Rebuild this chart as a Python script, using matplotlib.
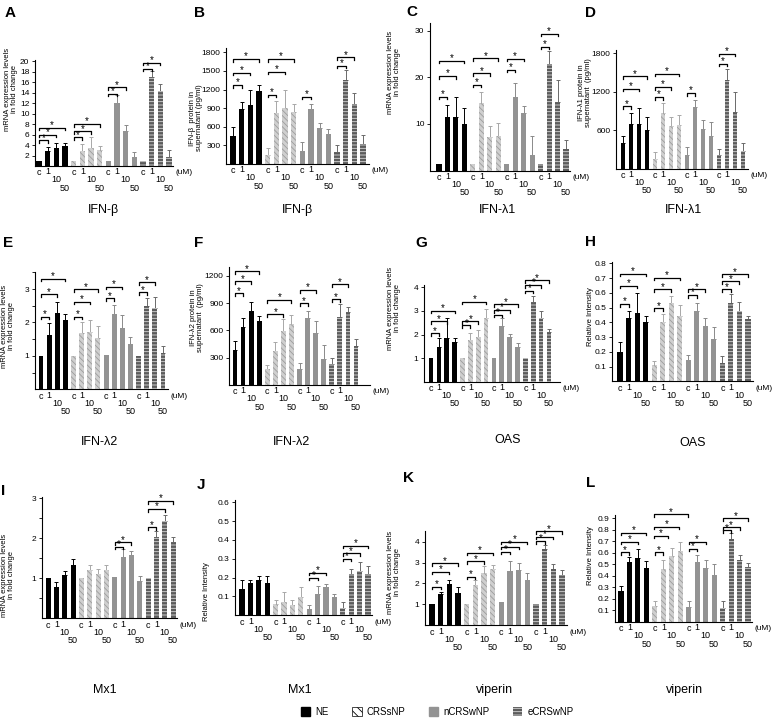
import numpy as np
import matplotlib
matplotlib.use('Agg')
import matplotlib.pyplot as plt
from matplotlib.patches import Patch

plt.rcParams.update({'font.family': ['Liberation Sans', 'DejaVu Sans'], 'font.size': 6.5,
                     'hatch.linewidth': 0.6, 'axes.linewidth': 0.8})

groups = ['NE', 'CRSsNP', 'nCRSwNP', 'eCRSwNP']
doses = ['c', '1', '10', '50']

# means / upper errors per group (NE, CRSsNP, nCRSwNP, eCRSwNP) x dose (c,1,10,50)
# significance brackets: (group, from bar, to bar, height)
a_mean = [[1.0, 2.8, 3.4, 3.8], [1.0, 2.9, 3.4, 3.0], [1.0, 12.0, 6.6, 1.8], [1.0, 16.9, 14.3, 1.8]]
a_err = [[0, 0.8, 0.9, 0.6], [0, 1.3, 2.1, 0.9], [0, 1.5, 1.3, 0.9], [0, 1.2, 1.3, 1.2]]
a_sig = [(0, 0, 1, 4.9), (0, 0, 2, 6.0), (0, 0, 3, 7.3), (1, 0, 1, 5.5), (1, 0, 2, 6.6),
         (1, 0, 3, 8.0), (2, 0, 1, 13.8), (2, 0, 2, 15.0), (3, 0, 1, 18.5), (3, 0, 2, 19.7)]

b_mean = [[450, 880, 950, 1180], [150, 820, 900, 840], [210, 890, 580, 480], [190, 1350, 960, 330]]
b_err = [[140, 120, 250, 90], [100, 190, 300, 130], [150, 80, 80, 80], [110, 170, 190, 130]]
b_sig = [(0, 0, 1, 1273), (0, 0, 2, 1471), (0, 0, 3, 1692), (1, 0, 1, 1115), (1, 0, 2, 1487),
         (1, 0, 3, 1692), (2, 0, 1, 1083), (3, 0, 1, 1584), (3, 0, 2, 1719)]

c_mean = [[1.5, 11.5, 11.5, 9.9], [1.5, 14.4, 7.2, 7.4], [1.5, 15.8, 12.3, 3.4], [1.5, 22.8, 14.7, 4.6]]
c_err = [[0, 2.6, 4.2, 3.5], [0, 2.5, 2.3, 2.8], [0, 2.9, 1.6, 4.1], [0, 2.8, 4.8, 2.0]]
c_sig = [(0, 0, 1, 15.9), (0, 0, 2, 20.3), (0, 0, 3, 23.6), (1, 0, 1, 18.4), (1, 0, 2, 20.9),
         (1, 0, 3, 24.1), (2, 0, 1, 21.7), (2, 0, 2, 24.0), (3, 0, 1, 26.6), (3, 0, 2, 29.4)]

d_mean = [[400, 690, 690, 600], [150, 870, 670, 680], [210, 960, 620, 510], [210, 1380, 890, 280]]
d_err = [[110, 170, 260, 210], [110, 160, 140, 160], [130, 110, 140, 210], [100, 170, 300, 120]]
d_sig = [(0, 0, 1, 970), (0, 0, 2, 1247), (0, 0, 3, 1440), (1, 0, 1, 1116), (1, 0, 2, 1273),
         (1, 0, 3, 1481), (2, 0, 1, 1179), (3, 0, 1, 1633), (3, 0, 2, 1794)]

e_mean = [[1.0, 1.62, 2.28, 2.08], [1.0, 1.68, 1.70, 1.55], [1.04, 2.25, 1.82, 1.37], [1.0, 2.5, 2.42, 1.08]]
e_err = [[0, 0.35, 0.32, 0.18], [0, 0.32, 0.37, 0.35], [0, 0.27, 0.40, 0.20], [0, 0.23, 0.33, 0.22]]
e_sig = [(0, 0, 1, 2.17), (0, 0, 2, 2.84), (0, 0, 3, 3.31), (1, 0, 1, 2.17), (1, 0, 2, 2.62),
         (1, 0, 3, 2.99), (2, 0, 1, 2.72), (2, 0, 2, 3.07), (3, 0, 1, 2.9), (3, 0, 2, 3.2)]

f_mean = [[385, 635, 815, 705], [172, 375, 595, 675], [172, 732, 567, 282], [230, 750, 805, 432]]
f_err = [[95, 100, 100, 55], [50, 100, 125, 95], [75, 80, 140, 157], [70, 140, 55, 70]]
f_sig = [(0, 0, 1, 1006), (0, 0, 2, 1141), (0, 0, 3, 1251), (1, 0, 2, 776), (1, 0, 3, 933),
         (2, 0, 1, 896), (2, 0, 2, 1043), (3, 0, 1, 940), (3, 0, 2, 1105)]

g_mean = [[1.0, 1.46, 1.84, 1.67], [1.0, 1.77, 1.91, 2.69], [1.0, 2.38, 1.88, 1.47], [1.0, 3.37, 2.68, 2.12]]
g_err = [[0, 0.38, 0.85, 0.2], [0, 0.3, 0.28, 0.38], [0, 0.3, 0.14, 0.16], [0, 0.28, 0.32, 0.12]]
g_sig = [(0, 0, 1, 2.05), (0, 0, 2, 2.57), (0, 0, 3, 3.0), (1, 0, 1, 2.4), (1, 0, 2, 2.57),
         (1, 0, 3, 3.39), (2, 0, 1, 2.83), (2, 0, 2, 3.04), (2, 0, 3, 3.28), (3, 0, 1, 3.86),
         (3, 0, 2, 4.1), (3, 0, 3, 4.3)]

h_mean = [[0.20, 0.43, 0.46, 0.40], [0.11, 0.40, 0.53, 0.445], [0.145, 0.475, 0.377, 0.29], [0.126, 0.533, 0.48, 0.42]]
h_err = [[0.065, 0.045, 0.14, 0.04], [0.03, 0.055, 0.05, 0.07], [0.03, 0.057, 0.05, 0.08], [0.045, 0.056, 0.06, 0.025]]
h_sig = [(0, 0, 1, 0.524), (0, 0, 2, 0.648), (0, 0, 3, 0.731), (1, 0, 1, 0.494), (1, 0, 2, 0.623),
         (1, 0, 3, 0.702), (2, 0, 1, 0.585), (2, 0, 2, 0.623), (3, 0, 1, 0.625), (3, 0, 2, 0.679),
         (3, 0, 3, 0.725)]

i_mean = [[1.0, 0.77, 1.07, 1.33], [1.0, 1.2, 1.1, 1.21], [1.04, 1.54, 1.58, 0.93], [1.0, 2.03, 2.44, 1.9]]
i_err = [[0, 0.13, 0.12, 0.14], [0, 0.13, 0.14, 0.12], [0, 0.19, 0.09, 0.12], [0, 0.14, 0.14, 0.13]]
i_sig = [(2, 0, 1, 1.79), (2, 0, 2, 1.9), (3, 0, 1, 2.27), (3, 0, 2, 2.73), (3, 0, 3, 2.93)]

j_mean = [[0.14, 0.17, 0.19, 0.17], [0.06, 0.07, 0.055, 0.095], [0.035, 0.112, 0.15, 0.095], [0.04, 0.22, 0.235, 0.22]]
j_err = [[0.05, 0.02, 0.02, 0.04], [0.02, 0.055, 0.025, 0.055], [0.02, 0.042, 0.014, 0.02], [0.03, 0.025, 0.05, 0.04]]
j_sig = [(2, 0, 1, 0.2), (2, 0, 2, 0.225), (3, 0, 1, 0.30), (3, 0, 2, 0.33), (3, 0, 3, 0.37)]

k_mean = [[1.0, 1.48, 1.97, 1.53], [1.0, 1.95, 2.48, 2.7], [1.1, 2.6, 2.64, 2.17], [1.0, 3.63, 2.7, 2.4]]
k_err = [[0, 0.12, 0.22, 0.3], [0, 0.2, 0.38, 0.2], [0, 0.47, 0.32, 0.32], [0, 0.2, 0.22, 0.24]]
k_sig = [(0, 0, 1, 1.85), (0, 0, 2, 2.56), (0, 0, 3, 2.96), (1, 0, 1, 2.32), (1, 0, 2, 3.07),
         (1, 0, 3, 3.47), (2, 0, 1, 3.52), (2, 0, 2, 3.76), (2, 0, 3, 4.0), (3, 0, 1, 4.03),
         (3, 0, 2, 4.24), (3, 0, 3, 4.5)]

l_mean = [[0.265, 0.52, 0.555, 0.47], [0.14, 0.46, 0.575, 0.615], [0.13, 0.52, 0.47, 0.405], [0.12, 0.72, 0.54, 0.48]]
l_err = [[0.05, 0.04, 0.08, 0.055], [0.045, 0.075, 0.07, 0.08], [0.055, 0.065, 0.065, 0.095], [0.06, 0.05, 0.04, 0.03]]
l_sig = [(0, 0, 1, 0.605), (0, 0, 2, 0.697), (0, 0, 3, 0.775), (1, 0, 1, 0.605), (1, -0.1, 1.55, 0.747),
         (1, -0.1, 2.85, 0.828), (1, -0.1, 3.9, 0.935), (2, 0, 1, 0.634), (2, 0, 2, 0.697),
         (3, 0, 1, 0.797), (3, 0, 2, 0.823), (3, 0, 3, 0.9)]

mrna = 'mRNA expression levels\nin fold change'
rel = 'Relative Intensity'

# layout in pixels: axis left, first bar, last bar, axis right, baseline, axis top
panels = [
    dict(L='A', lxy=(10, 13), box=(35, 39, 169, 173, 166, 60), ymax=20.2, yt=np.arange(2, 21, 2),
         ylab=mrna, yl=(11, 89), title='IFN-β', txy=(103, 210), d=(a_mean, a_err, a_sig)),
    dict(L='B', lxy=(200, 13), box=(226, 233, 363, 369, 164, 48), ymax=1870, yt=np.arange(300, 1801, 300),
         ylab='IFN-β  protein in\nsupernatant (pg/ml)', yl=(196, 118), title='IFN-β', txy=(297, 210),
         d=(b_mean, b_err, b_sig)),
    dict(L='C', lxy=(412, 12), box=(430, 439, 566, 570, 170.5, 23), ymax=31.7, yt=[10, 20, 30],
         ylab=mrna, yl=(394, 72), title='IFN-λ1', txy=(497, 210), d=(c_mean, c_err, c_sig)),
    dict(L='D', lxy=(590, 13), box=(616, 623, 743, 748, 168.5, 50), ymax=1851, yt=[600, 1200, 1800],
         ylab='IFN-λ1 protein in\nsupernatant  (pg/ml)', yl=(585, 93), title='IFN-λ1', txy=(683, 210),
         d=(d_mean, d_err, d_sig)),
    dict(L='E', lxy=(8, 243), box=(35, 41, 163, 168, 389.3, 272), ymax=3.51, yt=[1, 2, 3], minor=0.5,
         ylab=mrna, yl=(8, 326), title='IFN-λ2', txy=(100, 442), d=(e_mean, e_err, e_sig)),
    dict(L='F', lxy=(199, 243), box=(229, 235, 356, 370, 385, 267), ymax=1296, yt=np.arange(300, 1201, 300),
         ylab='IFN-λ2 protein in\nsupernatant  (pg/ml)', yl=(197, 318), title='IFN-λ2', txy=(292, 442),
         d=(f_mean, f_err, f_sig)),
    dict(L='G', lxy=(421, 243), box=(424, 431, 549, 560, 381.7, 285), ymax=4.1, yt=[1, 2, 3, 4],
         ylab=mrna, yl=(394, 308), title='OAS', txy=(508, 440), d=(g_mean, g_err, g_sig)),
    dict(L='H', lxy=(590, 242), box=(612, 620, 748, 753, 381.3, 262), ymax=0.809,
         yt=np.round(np.arange(0.1, 0.81, 0.1), 1), ylab=rel, yl=(590, 317), title='OAS', txy=(693, 443),
         d=(h_mean, h_err, h_sig)),
    dict(L='I', lxy=(3, 491), box=(42, 48, 173, 177, 618.3, 497), ymax=3.03, yt=[1, 2, 3], minor=0.5,
         ylab=mrna, yl=(8, 575), title='Mx1', txy=(105, 690), d=(i_mean, i_err, i_sig)),
    dict(L='J', lxy=(201, 485), box=(235, 242, 368, 372, 615.3, 500), ymax=0.612,
         yt=np.round(np.arange(0.1, 0.61, 0.1), 1), ylab=rel, yl=(206, 592), title='Mx1', txy=(300, 690),
         d=(j_mean, j_err, j_sig)),
    dict(L='K', lxy=(408, 478), box=(425, 432, 562, 567, 625.3, 531), ymax=4.51, yt=[1, 2, 3, 4],
         ylab=mrna, yl=(394, 572), title='viperin', txy=(495, 690), d=(k_mean, k_err, k_sig)),
    dict(L='L', lxy=(591, 483), box=(615, 621, 748, 752, 621.8, 515), ymax=0.929,
         yt=np.round(np.arange(0.1, 0.91, 0.1), 1), ylab=rel, yl=(590, 556), title='viperin', txy=(685, 690),
         d=(l_mean, l_err, l_sig)),
]

# bar styles: face, hatch colour, hatch, errorbar colour
styles = [('black', 'black', None, 'black'),
          ('#cfcfcf', '#9c9c9c', '\\\\\\\\\\\\', '#a8a8a8'),
          ('#939393', '#939393', None, '#8a8a8a'),
          ('#5c5c5c', '#d9d9d9', '-----', '#6a6a6a')]

W, H = 774, 721
fig = plt.figure(figsize=(W / 100, H / 100), dpi=100)


def fx(x):
    return x / W


def fy(y):
    return 1 - y / H


dose_off = {'c': -5, '1': -4.2, '10': -10, '50': -16}

for p in panels:
    al, b0, b15, ar, base, top = p['box']
    mean, err, sig = p['d']
    sp = (b15 - b0) / 15.0
    ax = fig.add_axes([fx(al), fy(base), (ar - al) / W, (base - top) / H])
    ax.set_xlim((al - b0) / sp, 15 + (ar - b15) / sp)
    ax.set_ylim(0, p['ymax'])
    for s in ['top', 'right']:
        ax.spines[s].set_visible(False)
    ax.set_xticks([])
    ax.set_yticks(p['yt'])
    ax.set_yticklabels([('%g' % v) if v >= 1 or v == 0 else '%.1f' % v for v in p['yt']])
    if 'minor' in p:
        ax.set_yticks(np.arange(p['minor'], p['ymax'], 1.0), minor=True)
    ax.tick_params(axis='y', length=2, width=0.6, pad=2, labelsize=6)
    ax.tick_params(axis='y', which='minor', length=2, width=0.6)
    ypx = p['ymax'] / (base - top)
    for g in range(4):
        fc, hc, hatch, ec = styles[g]
        x = np.arange(4) + 4 * g
        ax.bar(x, mean[g], width=0.6, color=fc, edgecolor=hc, hatch=hatch, linewidth=0, zorder=2)
        e = np.array(err[g], float)
        m = e > 0
        ax.errorbar(x[m], np.array(mean[g])[m], yerr=[np.zeros(m.sum()), e[m]], fmt='none',
                    ecolor=ec, elinewidth=0.7, capsize=1.5, capthick=0.7, zorder=1)
        for i, lab in enumerate(doses):
            ax.annotate(lab, xy=(x[i], 0), xycoords=('data', 'axes fraction'),
                        xytext=(0, dose_off[lab]), textcoords='offset points',
                        ha='center', va='center', fontsize=6.5)
    for g, i0, i1, y in sig:
        x0, x1 = 4 * g + i0, 4 * g + i1
        dy = 2.5 * ypx
        ax.plot([x0, x0, x1, x1], [y - dy, y, y, y - dy], color='black', lw=0.9, clip_on=False, zorder=3)
        ax.text((x0 + x1) / 2, y + 2.5 * ypx, '*', ha='center', va='center', fontsize=7)
    ax.annotate('(uM)', xy=(1, 0), xycoords='axes fraction', xytext=(1.5, -5),
                textcoords='offset points', ha='left', va='center', fontsize=6)
    fig.text(fx(p['lxy'][0]), fy(p['lxy'][1]), p['L'], fontsize=11, fontweight='bold',
             ha='center', va='center')
    fig.text(fx(p['yl'][0]), fy(p['yl'][1]), p['ylab'], rotation=90, fontsize=5.5,
             ha='center', va='center', linespacing=1.1)
    fig.text(fx(p['txy'][0]), fy(p['txy'][1]), p['title'], fontsize=9, ha='center', va='center')

handles = [Patch(facecolor='black', edgecolor='black'),
           Patch(facecolor='white', edgecolor='black', hatch='\\\\\\\\', linewidth=0.5),
           Patch(facecolor='#939393', edgecolor='#939393'),
           Patch(facecolor='#5c5c5c', edgecolor='#d9d9d9', hatch='-----', linewidth=0)]
fig.legend(handles, groups, loc='center', bbox_to_anchor=(fx(437), fy(712)), ncol=4, frameon=False,
           fontsize=7, handlelength=1.0, handleheight=1.0, columnspacing=2.4, handletextpad=0.5)

fig.savefig('out.png', dpi=100)
